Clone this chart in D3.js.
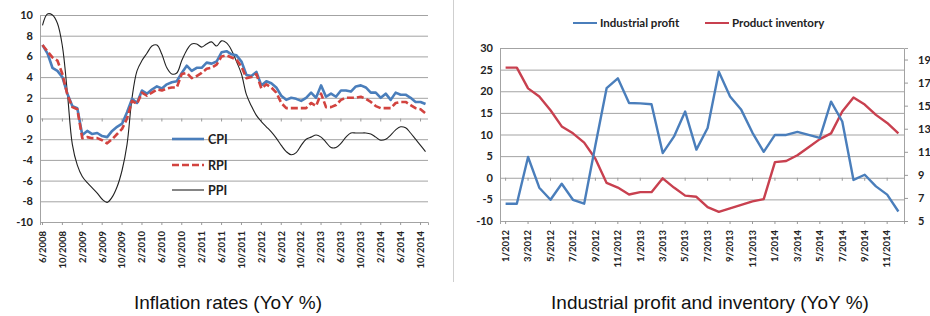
<!DOCTYPE html>
<html>
<head>
<meta charset="utf-8">
<script src="https://cdn.jsdelivr.net/npm/d3@7"></script>
<style>
body { margin: 0; background: #fff; }
svg { display: block; }
.ax text { font-family: Lato, "Liberation Sans", sans-serif; font-weight: 700; fill: #222; }
.lg { font-family: Lato, "Liberation Sans", sans-serif; font-weight: 700; fill: #222; }
.title { font-family: "Liberation Sans", Arial, sans-serif; font-size: 19px; fill: #111; }
</style>
</head>
<body>
<svg id="chart" width="930" height="316"></svg>
<script>
// left panel, monthly 6/2008 .. 11/2014 (YoY %)
var CPI = [7.1, 6.3, 4.9, 4.6, 4.0, 2.4, 1.2, 1.0, -1.6, -1.2, -1.5, -1.4, -1.7, -1.8, -1.2, -0.8,
  -0.5, 0.6, 1.9, 1.5, 2.7, 2.4, 2.8, 3.1, 2.9, 3.3, 3.5, 3.6, 4.4, 5.1, 4.6, 4.9, 4.9, 5.4, 5.3,
  5.5, 6.4, 6.5, 6.2, 6.1, 5.5, 4.2, 4.1, 4.5, 3.2, 3.6, 3.4, 3.0, 2.2, 1.8, 2.0, 1.9, 1.7, 2.0,
  2.5, 2.0, 3.2, 2.1, 2.4, 2.1, 2.7, 2.7, 2.6, 3.1, 3.2, 3.0, 2.5, 2.5, 2.0, 2.4, 1.8, 2.5, 2.3,
  2.3, 2.0, 1.6, 1.6, 1.4];
var RPI = [7.1, 6.5, 5.9, 5.6, 4.3, 2.3, 1.1, 0.9, -1.9, -1.8, -1.9, -1.9, -2.1, -2.4, -2.0, -1.5,
  -1.0, 0.0, 1.7, 1.4, 2.5, 2.2, 2.5, 2.8, 2.7, 2.9, 3.0, 3.0, 4.3, 4.4, 3.9, 4.1, 4.4, 4.8, 4.9,
  5.2, 6.0, 6.1, 5.9, 5.7, 5.0, 3.9, 4.0, 4.3, 2.9, 3.3, 3.0, 2.5, 1.5, 1.0, 1.0, 1.0, 1.0, 1.0,
  1.5, 1.2, 2.4, 1.1, 1.1, 1.3, 1.8, 2.0, 2.0, 2.0, 2.1, 1.9, 1.6, 1.2, 1.0, 1.0, 1.0, 1.5, 1.6,
  1.6, 1.3, 1.0, 0.9, 0.5];
var PPI = [9.0, 10.1, 10.0, 9.2, 7.0, 2.5, -2.5, -4.5, -5.6, -6.2, -6.7, -7.2, -7.8, -8.1, -7.6,
  -6.6, -5.0, -2.5, 2.0, 4.6, 5.6, 6.3, 7.0, 7.1, 6.2, 4.9, 4.3, 4.4, 5.6, 6.6, 7.2, 7.2, 6.9, 7.2,
  7.4, 7.0, 7.5, 7.3, 6.6, 5.5, 4.3, 2.3, 1.2, 0.3, -0.3, -0.8, -1.3, -1.9, -2.6, -3.2, -3.5, -3.3,
  -2.6, -2.0, -1.8, -1.6, -1.8, -2.3, -2.8, -2.8, -2.4, -1.8, -1.4, -1.4, -1.4, -1.4, -1.5, -1.8,
  -2.1, -2.0, -1.6, -1.1, -0.8, -0.9, -1.4, -2.0, -2.6, -3.2];
var INFL_TICKS = ["6/2008", "10/2008", "2/2009", "6/2009", "10/2009", "2/2010", "6/2010",
  "10/2010", "2/2011", "6/2011", "10/2011", "2/2012", "6/2012", "10/2012", "2/2013", "6/2013",
  "10/2013", "2/2014", "6/2014", "10/2014"];

// right panel, monthly 1/2012 .. 12/2014
var PROFIT = [-6.0, -6.0, 4.8, -2.3, -5.1, -1.4, -5.1, -6.0, 7.5, 20.7, 23.0, 17.3, 17.2, 17.0,
  5.7, 9.5, 15.3, 6.5, 11.5, 24.5, 18.8, 15.7, 10.4, 6.0, 9.9, 9.9, 10.6, 9.9, 9.2, 17.6, 13.0,
  -0.5, 0.7, -2.0, -3.9, -7.8];
var INVENTORY = [18.3, 18.3, 16.5, 15.8, 14.6, 13.2, 12.6, 11.8, 10.4, 8.3, 7.9, 7.3, 7.5, 7.5,
  8.7, 7.9, 7.2, 7.1, 6.2, 5.8, 6.1, 6.4, 6.7, 6.9, 10.1, 10.2, 10.7, 11.4, 12.1, 12.6, 14.5, 15.7,
  15.1, 14.2, 13.5, 12.6];
var IND_TICKS = ["1/2012", "3/2012", "5/2012", "7/2012", "9/2012", "11/2012", "1/2013", "3/2013",
  "5/2013", "7/2013", "9/2013", "11/2013", "1/2014", "3/2014", "5/2014", "7/2014", "9/2014",
  "11/2014"];

var GRID = "#a3a3a3";
var BLUE = "#4a7ebb";
var RED = "#c8404f";

var monthLabels = function(month, year, n) {
  // "m/yyyy" strings for n consecutive months
  var out = [];
  for (var i = 0; i < n; ++i) {
    out.push(month + "/" + year);
    month++;
    if (month > 12) { month = 1; year++; }
  }
  return out;
};

// plain hyphen minus like the original, not d3's U+2212
var plain = function(d) { return String(d); };

var svg = d3.select("#chart");

var drawPanel = function(x, y, yTicks, xTicks, gridW) {
  // gridlines + left value axis + rotated month labels
  svg.append("g").attr("class", "ax")
    .attr("transform", "translate(" + x.range()[0] + ",0)")
    .call(d3.axisLeft(y).tickValues(yTicks).tickSize(-gridW).tickPadding(7).tickFormat(plain))
    .call(function(g) {
      g.select(".domain").attr("stroke", GRID);
      g.selectAll(".tick line").attr("stroke", GRID);
      g.selectAll("text").style("font-size", "11px");
    });
  // little tick marks on the zero line
  svg.append("g")
    .attr("transform", "translate(0," + y(0) + ")")
    .call(d3.axisBottom(x).tickValues(xTicks).tickSize(3).tickFormat(""))
    .call(function(g) {
      g.select(".domain").remove();
      g.selectAll("line").attr("stroke", "#999");
    });
  var lab = svg.append("g").attr("class", "ax")
    .attr("transform", "translate(0," + y.range()[0] + ")")
    .call(d3.axisBottom(x).tickValues(xTicks).tickSize(3));
  lab.select(".domain").attr("stroke", GRID);
  lab.selectAll(".tick line").attr("stroke", "#999");
  lab.selectAll("text")
    .style("font-size", "9.5px")
    .attr("text-anchor", "end")
    .attr("transform", "rotate(-90)")
    .attr("x", -9)
    .attr("y", 0)
    .attr("dy", "0.35em");
};

var addLine = function(data, x, y, cats, color, width, dash, curve) {
  var line = d3.line()
    .x(function(d, i) { return x(cats[i]) + x.bandwidth() / 2; })
    .y(function(d) { return y(d); })
    .curve(curve || d3.curveLinear);
  svg.append("path").datum(data)
    .attr("d", line)
    .attr("fill", "none")
    .attr("stroke", color)
    .attr("stroke-width", width)
    .attr("stroke-linejoin", "round")
    .attr("stroke-dasharray", dash || null);
};

// ---- left: inflation rates
var inflMonths = monthLabels(6, 2008, CPI.length);
var xL = d3.scaleBand().domain(inflMonths).range([40, 428]);
var yL = d3.scaleLinear().domain([-10, 10]).range([222, 15]);
drawPanel(xL, yL, d3.range(-10, 11, 2), INFL_TICKS, 388);

addLine(PPI, xL, yL, inflMonths, "#222", 1.1, null, d3.curveCatmullRom);
addLine(CPI, xL, yL, inflMonths, BLUE, 2.6);
addLine(RPI, xL, yL, inflMonths, "#d2433f", 2.6, "7,3");

var legL = [["CPI", BLUE, 2.6, null, 139], ["RPI", "#d2433f", 2.6, "7,3", 165], ["PPI", "#222", 1.1, null, 190]];
legL.forEach(function(d) {
  svg.append("line").attr("x1", 172).attr("x2", 204).attr("y1", d[4]).attr("y2", d[4])
    .attr("stroke", d[1]).attr("stroke-width", d[2]).attr("stroke-dasharray", d[3]);
  svg.append("text").attr("class", "lg").attr("x", 208).attr("y", d[4]).attr("dy", "0.36em")
    .style("font-size", "12.5px").text(d[0]);
});

// ---- right: industrial profit and inventory
var indMonths = monthLabels(1, 2012, PROFIT.length);
var xR = d3.scaleBand().domain(indMonths).range([500, 904]);
var yR = d3.scaleLinear().domain([-10, 30]).range([221, 48]);
var yR2 = d3.scaleLinear().domain([5, 20]).range([221, 48]);
drawPanel(xR, yR, d3.range(-10, 31, 5), IND_TICKS, 404);

svg.append("g").attr("class", "ax")
  .attr("transform", "translate(904,0)")
  .call(d3.axisRight(yR2).tickValues(d3.range(5, 20, 2)).tickSize(4).tickPadding(10).tickFormat(plain))
  .call(function(g) {
    g.select(".domain").attr("stroke", GRID);
    g.selectAll(".tick line").attr("stroke", "#999");
    g.selectAll("text").style("font-size", "11px");
  });

addLine(INVENTORY, xR, yR2, indMonths, RED, 2.4);
addLine(PROFIT, xR, yR, indMonths, BLUE, 2.4);

var legR = [["Industrial profit", BLUE, 573], ["Product inventory", RED, 705]];
legR.forEach(function(d) {
  svg.append("line").attr("x1", d[2]).attr("x2", d[2] + 24).attr("y1", 23).attr("y2", 23)
    .attr("stroke", d[1]).attr("stroke-width", 2);
  svg.append("text").attr("class", "lg").attr("x", d[2] + 27).attr("y", 23).attr("dy", "0.36em")
    .style("font-size", "11.5px").text(d[0]);
});

// divider between the two panels
svg.append("line").attr("x1", 453.5).attr("x2", 453.5).attr("y1", 0).attr("y2", 282)
  .attr("stroke", "#cfcfcf");

svg.append("text").attr("class", "title").attr("x", 228).attr("y", 309)
  .attr("text-anchor", "middle").text("Inflation rates (YoY %)");
svg.append("text").attr("class", "title").attr("x", 710).attr("y", 309)
  .attr("text-anchor", "middle").text("Industrial profit and inventory (YoY %)");
</script>
</body>
</html>
